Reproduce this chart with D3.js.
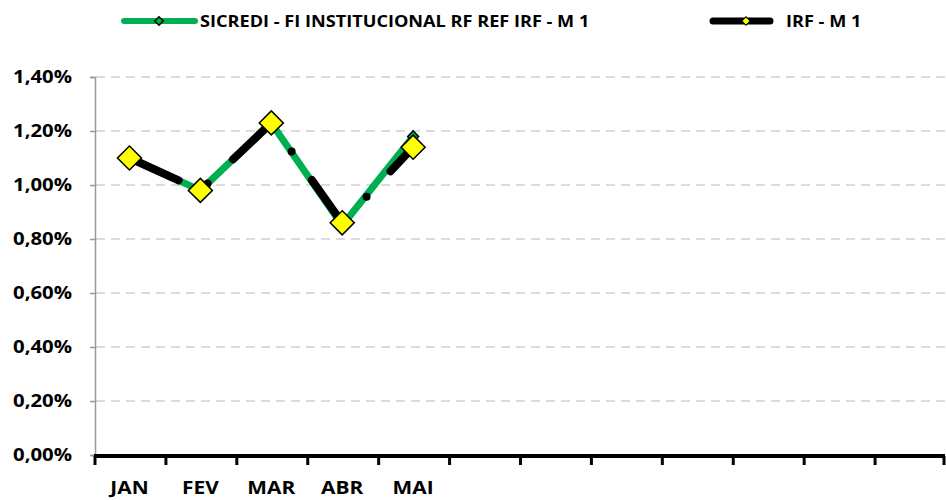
<!DOCTYPE html>
<html>
<head>
<meta charset="utf-8">
<script src="https://cdn.jsdelivr.net/npm/d3@7"></script>
<style>
  body { margin: 0; background: #fff; }
  svg text { font-family: "Open Sans", sans-serif; font-weight: bold; fill: #000; }
</style>
</head>
<body>
<svg width="946" height="500"></svg>
<script>
// data
var months = ["JAN", "FEV", "MAR", "ABR", "MAI", "", "", "", "", "", "", ""];
var sicredi = [0.0110, 0.0098, 0.0123, 0.0085, 0.0118];
var irf = [0.0110, 0.0098, 0.0123, 0.0086, 0.0114];
var yTicks = [0, 0.002, 0.004, 0.006, 0.008, 0.010, 0.012, 0.014];
var seriesNames = ["SICREDI - FI INSTITUCIONAL RF REF IRF - M 1", "IRF - M 1"];

var svg = d3.select("svg");
var stretch = 1.13; // text in the picture is wider than normal

var x = d3.scaleBand().domain(d3.range(months.length)).range([94, 945]);
var y = d3.scaleLinear().domain([0, 0.014]).range([455, 77]);

var fmt = function(v) { return d3.format(".2f")(v * 100).replace(".", ",") + "%"; };

// gridlines
svg.append("g")
    .selectAll("line")
    .data(yTicks.slice(1))
    .enter().append("line")
    .attr("x1", 96).attr("x2", 945)
    .attr("y1", function(d) { return y(d); })
    .attr("y2", function(d) { return y(d); })
    .attr("stroke", "#d0d0d0")
    .attr("stroke-width", 1.5)
    .attr("stroke-dasharray", "9,6");

// y axis
var yAxis = svg.append("g")
    .attr("transform", "translate(95,0)")
    .call(d3.axisLeft(y).tickValues(yTicks).tickFormat(fmt).tickSize(5).tickPadding(0));
yAxis.select(".domain").attr("stroke", "#999").attr("stroke-width", 1.5);
yAxis.selectAll(".tick line").attr("stroke", "#999").attr("stroke-width", 1.5);
yAxis.selectAll(".tick text").remove();

svg.append("g")
    .selectAll("text")
    .data(yTicks)
    .enter().append("text")
    .attr("text-anchor", "end")
    .attr("font-size", "18px")
    .attr("dy", "0.36em")
    .attr("transform", function(d) { return "translate(72," + y(d) + ") scale(" + stretch + ",1)"; })
    .text(fmt);

// x axis
var xAxis = svg.append("g")
    .attr("transform", "translate(0,456)");
xAxis.append("line")
    .attr("x1", 94).attr("x2", 945)
    .attr("stroke", "#000").attr("stroke-width", 4);
xAxis.selectAll(".tk")
    .data(d3.range(months.length + 1))
    .enter().append("line")
    .attr("class", "tk")
    .attr("x1", function(i) { return i < months.length ? x(i) + 1 : x.range()[1] - 1; })
    .attr("x2", function(i) { return i < months.length ? x(i) + 1 : x.range()[1] - 1; })
    .attr("y1", 0).attr("y2", 9)
    .attr("stroke", "#000").attr("stroke-width", 3);

svg.append("g")
    .selectAll("text")
    .data(months)
    .enter().append("text")
    .attr("text-anchor", "middle")
    .attr("font-size", "18.5px")
    .attr("transform", function(d, i) { return "translate(" + (x(i) + x.bandwidth() / 2) + ",494) scale(" + stretch + ",1)"; })
    .text(function(d) { return d; });

var cx = function(d, i) { return x(i) + x.bandwidth() / 2; };
var line = d3.line()
    .x(cx)
    .y(function(d) { return y(d); });

var diamond = function(size) { return d3.symbol().type(d3.symbolSquare).size(size)(); };

// SICREDI series
svg.append("path")
    .datum(sicredi)
    .attr("d", line)
    .attr("fill", "none")
    .attr("stroke", "#00b050")
    .attr("stroke-width", 7)
    .attr("stroke-linejoin", "round")
    .attr("stroke-linecap", "round");
svg.append("g")
    .selectAll("path")
    .data(sicredi)
    .enter().append("path")
    .attr("d", diamond(60))
    .attr("transform", function(d, i) { return "translate(" + cx(d, i) + "," + y(d) + ") rotate(45)"; })
    .attr("fill", "#00b050")
    .attr("stroke", "#000")
    .attr("stroke-width", 1.5);

// IRF series
svg.append("path")
    .datum(irf)
    .attr("d", line)
    .attr("fill", "none")
    .attr("stroke", "#000")
    .attr("stroke-width", 8)
    .attr("stroke-linecap", "round")
    .attr("stroke-dasharray", "54,34,0,35");
svg.append("g")
    .selectAll("path")
    .data(irf)
    .enter().append("path")
    .attr("d", diamond(289))
    .attr("transform", function(d, i) { return "translate(" + cx(d, i) + "," + y(d) + ") rotate(45)"; })
    .attr("fill", "#ffff00")
    .attr("stroke", "#000")
    .attr("stroke-width", 1.5);

// legend
var legend = svg.append("g").attr("class", "legend");
legend.append("line")
    .attr("x1", 124).attr("x2", 195).attr("y1", 21).attr("y2", 21)
    .attr("stroke", "#00b050").attr("stroke-width", 6).attr("stroke-linecap", "round");
legend.append("path")
    .attr("d", diamond(36))
    .attr("transform", "translate(159,21) rotate(45)")
    .attr("fill", "#00b050").attr("stroke", "#000").attr("stroke-width", 1.5);
legend.append("text")
    .attr("font-size", "15.5px")
    .attr("transform", "translate(200,27) scale(1.17,1)")
    .text(seriesNames[0]);

legend.append("line")
    .attr("x1", 713).attr("x2", 770).attr("y1", 21).attr("y2", 21)
    .attr("stroke", "#000").attr("stroke-width", 7).attr("stroke-linecap", "round");
legend.append("path")
    .attr("d", diamond(36))
    .attr("transform", "translate(746,21) rotate(45)")
    .attr("fill", "#ffff00").attr("stroke", "#000").attr("stroke-width", 1);
legend.append("text")
    .attr("font-size", "15.5px")
    .attr("transform", "translate(786,27) scale(1.17,1)")
    .text(seriesNames[1]);
</script>
</body>
</html>
